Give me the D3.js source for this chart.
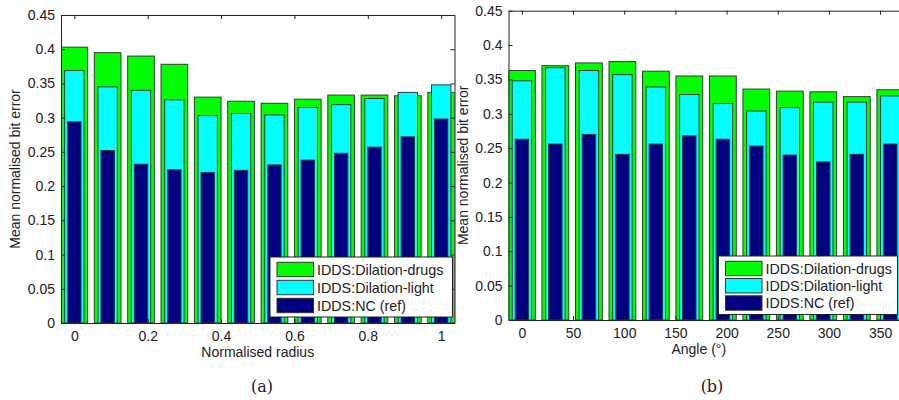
<!DOCTYPE html>
<html>
<head>
<meta charset="utf-8">
<script src="https://cdn.jsdelivr.net/npm/d3@7"></script>
<style>
  body { margin: 0; background: #fff; }
  text { font-family: "Liberation Sans", Arial, sans-serif; fill: #222; }
  .caption { font-family: "DejaVu Serif", "Liberation Serif", serif; }
</style>
</head>
<body>
<div id="chart"></div>
<script>
var fullwidth = 899,
    fullheight = 400;

var seriesNames = ["IDDS:Dilation-drugs", "IDDS:Dilation-light", "IDDS:NC (ref)"];
var yTicks = [0, 0.05, 0.1, 0.15, 0.2, 0.25, 0.3, 0.35, 0.4, 0.45];

// panel (a): normalised radius
var radius = [0, 0.0909, 0.1818, 0.2727, 0.3636, 0.4545, 0.5455, 0.6364, 0.7273, 0.8182, 0.9091, 1];
var radiusTicks = [0, 0.2, 0.4, 0.6, 0.8, 1];
var radiusDrugs = [0.403, 0.395, 0.390, 0.378, 0.330, 0.324, 0.321, 0.327, 0.333, 0.333, 0.332, 0.337];
var radiusLight = [0.369, 0.345, 0.340, 0.326, 0.303, 0.306, 0.304, 0.315, 0.319, 0.328, 0.337, 0.348];
var radiusNC    = [0.294, 0.252, 0.232, 0.224, 0.220, 0.223, 0.231, 0.238, 0.248, 0.257, 0.272, 0.298];

// panel (b): angle
var angle = [0, 32.7, 65.5, 98.2, 130.9, 163.6, 196.4, 229.1, 261.8, 294.5, 327.3, 360];
var angleTicks = [0, 50, 100, 150, 200, 250, 300, 350];
var angleDrugs = [0.363, 0.370, 0.374, 0.376, 0.362, 0.355, 0.355, 0.336, 0.333, 0.332, 0.325, 0.335];
var angleLight = [0.348, 0.367, 0.363, 0.357, 0.339, 0.328, 0.315, 0.304, 0.309, 0.317, 0.317, 0.326];
var angleNC    = [0.263, 0.256, 0.270, 0.241, 0.256, 0.268, 0.263, 0.253, 0.240, 0.230, 0.241, 0.256];

var colors = ["#00ff00", "#00ffff", "#000080"];
var widths = [0.8, 0.58, 0.4];   // fraction of bar spacing

var svg = d3.select("#chart")
    .append("svg")
    .attr("width", fullwidth)
    .attr("height", fullheight);

svg.append("rect").attr("width", fullwidth).attr("height", fullheight).attr("fill", "#fff");

makePanel({
    left: 61, right: 454.5, top: 15, bottom: 323,
    xs: radius, series: [radiusDrugs, radiusLight, radiusNC],
    xdomain: [-0.0363, 1.0363], xticks: radiusTicks, spacing: 0.0909,
    xlabel: "Normalised radius", ylabelX: 15, caption: "(a)", captionX: 262,
    legend: {x: 270, y: 257, w: 182.5, h: 60}
});

makePanel({
    left: 508.5, right: 903.7, top: 10.7, bottom: 320,
    xs: angle, series: [angleDrugs, angleLight, angleNC],
    xdomain: [-13.1, 373.1], xticks: angleTicks, spacing: 32.73,
    xlabel: "Angle (\u00b0)", ylabelX: 463.5, caption: "(b)", captionX: 712,
    legend: {x: 718.5, y: 256, w: 179, h: 58.5}
});

function makePanel(p) {
    var g = svg.append("g");

    var xScale = d3.scaleLinear().domain(p.xdomain).range([p.left, p.right]);
    var yScale = d3.scaleLinear().domain([0, 0.45]).range([p.bottom, p.top]);
    var step = xScale(p.spacing) - xScale(0);

    var clip = "clip" + Math.round(p.left);
    g.append("clipPath").attr("id", clip)
        .append("rect")
        .attr("x", p.left).attr("y", p.top)
        .attr("width", p.right - p.left).attr("height", p.bottom - p.top);

    var barHolder = g.append("g").attr("clip-path", "url(#" + clip + ")");

    p.series.forEach(function(vals, k) {
        var w = step * widths[k];
        barHolder.selectAll("rect.s" + k)
            .data(vals)
            .enter().append("rect")
            .classed("s" + k, true)
            .attr("x", function(d, i) { return xScale(p.xs[i]) - w / 2; })
            .attr("width", w)
            .attr("y", function(d) { return yScale(d); })
            .attr("height", function(d) { return p.bottom - yScale(d); })
            .attr("fill", colors[k])
            .attr("stroke", "#3a3a3a")
            .attr("stroke-width", 1);
    });

    var tk = 4;
    var bottomAxis = d3.axisBottom(xScale).tickValues(p.xticks).tickFormat(d3.format("")).tickSizeInner(-tk).tickSizeOuter(0).tickPadding(8);
    var topAxis = d3.axisTop(xScale).tickValues(p.xticks).tickFormat("").tickSizeInner(-tk).tickSizeOuter(0);
    var leftAxis = d3.axisLeft(yScale).tickValues(yTicks).tickFormat(d3.format("")).tickSizeInner(-tk).tickSizeOuter(0).tickPadding(6);
    var rightAxis = d3.axisRight(yScale).tickValues(yTicks).tickFormat("").tickSizeInner(-tk).tickSizeOuter(0);

    var axes = [
        g.append("g").attr("transform", "translate(0," + p.bottom + ")").call(bottomAxis),
        g.append("g").attr("transform", "translate(0," + p.top + ")").call(topAxis),
        g.append("g").attr("transform", "translate(" + p.left + ",0)").call(leftAxis),
        g.append("g").attr("transform", "translate(" + p.right + ",0)").call(rightAxis)
    ];
    axes.forEach(function(a) {
        a.selectAll("path, line").attr("stroke", "#222");
        a.selectAll("text").style("font-size", "14px").attr("fill", "#222").style("font-family", "'Liberation Sans', Arial, sans-serif");
    });

    g.append("text")
        .attr("x", (p.left + Math.min(p.right, fullwidth)) / 2 + (p.left > 400 ? -5 : 0))
        .attr("y", p.bottom + 34)
        .style("text-anchor", "middle")
        .style("font-size", "14px")
        .text(p.xlabel);

    g.append("text")
        .attr("transform", "translate(" + p.ylabelX + "," + (p.top + p.bottom) / 2 + ")rotate(-90)")
        .attr("dy", "0.35em")
        .style("text-anchor", "middle")
        .style("font-size", "14px")
        .text("Mean normalised bit error");

    g.append("text")
        .classed("caption", true)
        .attr("x", p.captionX)
        .attr("y", 392)
        .style("text-anchor", "middle")
        .style("font-size", "16px")
        .text(p.caption);

    // legend
    var L = p.legend;
    var leg = g.append("g").attr("transform", "translate(" + L.x + "," + L.y + ")");
    leg.append("rect")
        .attr("width", L.w).attr("height", L.h)
        .attr("fill", "#fff").attr("stroke", "#222").attr("stroke-width", 1);
    var rowScale = d3.scalePoint().domain(seriesNames).range([12.5, L.h - 11.5]);
    var rows = leg.selectAll("g.row").data(seriesNames).enter().append("g")
        .attr("transform", function(d) { return "translate(7," + rowScale(d) + ")"; });
    rows.append("rect")
        .attr("y", -7.2).attr("width", 36.5).attr("height", 14.4)
        .attr("fill", function(d, i) { return colors[i]; })
        .attr("stroke", "#333").attr("stroke-width", 1);
    rows.append("text")
        .attr("x", 40)
        .attr("dy", "0.36em")
        .style("font-size", "14.3px")
        .text(function(d) { return d; });
}
</script>
</body>
</html>
